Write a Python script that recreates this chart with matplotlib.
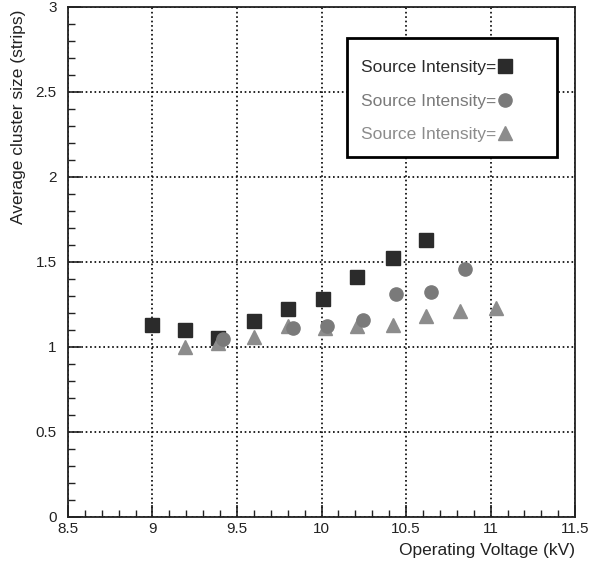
#!/usr/bin/env python3

import matplotlib.pyplot as plt
from matplotlib.patches import Rectangle
from matplotlib.ticker import MultipleLocator

plt.rcParams['font.family'] = ['Liberation Sans', 'DejaVu Sans']

# average cluster size vs operating voltage, three source intensities
v_square = [9.0, 9.19, 9.39, 9.60, 9.80, 10.01, 10.21, 10.42, 10.62]
cs_square = [1.13, 1.10, 1.05, 1.15, 1.22, 1.28, 1.41, 1.52, 1.63]

v_circle = [9.42, 9.83, 10.03, 10.245, 10.44, 10.65, 10.85]
cs_circle = [1.045, 1.11, 1.12, 1.16, 1.31, 1.32, 1.46]

v_triangle = [9.19, 9.39, 9.60, 9.80, 10.02, 10.21, 10.42, 10.62, 10.82, 11.03]
cs_triangle = [1.0, 1.02, 1.06, 1.12, 1.11, 1.12, 1.13, 1.18, 1.21, 1.23]

labels = ["Source Intensity=", "Source Intensity=", "Source Intensity="]
colors = ['#2b2b2b', '#7a7a7a', '#8c8c8c']

fig = plt.figure(figsize=(6.01, 5.63), dpi=100)
ax = fig.add_axes([0.113, 0.082, 0.844, 0.906])

ax.plot(v_square, cs_square, linestyle='none', marker='s', markersize=9.5,
        color=colors[0], label=labels[0], zorder=3)
ax.plot(v_circle, cs_circle, linestyle='none', marker='o', markersize=9.5,
        color=colors[1], label=labels[1], zorder=4)
ax.plot(v_triangle, cs_triangle, linestyle='none', marker='^', markersize=9.5,
        color=colors[2], label=labels[2], zorder=3)

ax.set_xlim(8.5, 11.5)
ax.set_ylim(0, 3)
ax.xaxis.set_major_locator(MultipleLocator(0.5))
ax.xaxis.set_minor_locator(MultipleLocator(0.1))
ax.yaxis.set_major_locator(MultipleLocator(0.5))
ax.yaxis.set_minor_locator(MultipleLocator(0.1))
ax.xaxis.set_major_formatter(plt.FuncFormatter(lambda v, p: "%g" % v))
ax.yaxis.set_major_formatter(plt.FuncFormatter(lambda v, p: "%g" % v))

ax.tick_params(which='both', direction='in', top=False, right=False,
               labelsize=11, colors='#222222')
ax.tick_params(which='major', length=9, width=1.2)
ax.tick_params(axis='y', which='major', pad=8)
ax.tick_params(axis='x', which='major', pad=4)
ax.tick_params(which='minor', length=5, width=1.0)

ax.grid(True, which='major', color='black', linestyle=':', linewidth=1.2)
for s in ax.spines.values():
    s.set_linewidth(1.3)
    s.set_color('#222222')

ax.set_xlabel("Operating Voltage (kV)", fontsize=12.5, color='#222222', loc='right')
ax.xaxis.set_label_coords(1.0, -0.052)
ax.set_ylabel("Average cluster size (strips)", fontsize=12.5, color='#222222', loc='top')
ax.yaxis.set_label_coords(-0.083, 0.994)

# legend box drawn separately, text sits inside it
ax.add_patch(Rectangle((0.5503, 0.7053), 0.4142, 0.2333, transform=ax.transAxes,
                       facecolor='white', edgecolor='black', linewidth=2,
                       zorder=5))
leg = ax.legend(loc='upper left', bbox_to_anchor=(0.578, 0.895),
                markerfirst=False, fontsize=12.5, frameon=False,
                borderpad=0, labelspacing=1.05, handlelength=0.8,
                handletextpad=0.1, borderaxespad=0, markerscale=1.0)
leg.set_zorder(6)
for t, c in zip(leg.get_texts(), colors):
    t.set_color(c)

fig.savefig('out.png', dpi=100)
